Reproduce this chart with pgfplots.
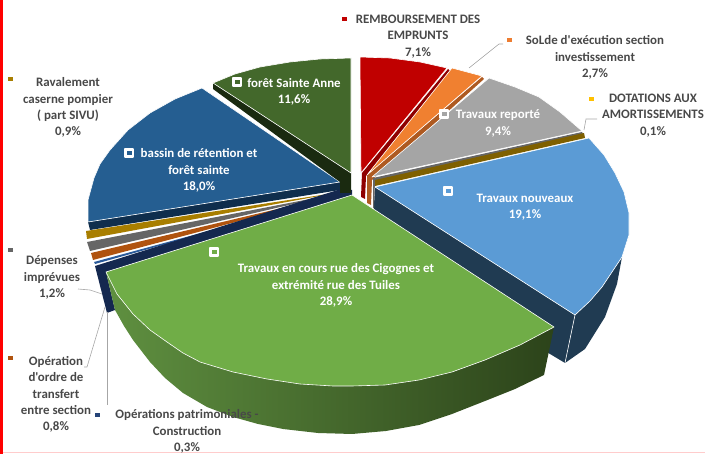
\documentclass[border=0pt]{standalone}
\usepackage{fontspec}
\newfontfamily\cb{Carlito}
\usepackage{pgfplots}
\pgfplotsset{compat=1.18}
\definecolor{tgrey}{HTML}{484848}
\definecolor{cNavyB}{HTML}{203B52}
\definecolor{cNavyC}{HTML}{0F2E4D}
\definecolor{cGold}{HTML}{A87E00}
\definecolor{cGrey}{HTML}{666666}
\definecolor{cRust}{HTML}{B0530F}
\definecolor{cThin}{HTML}{2A5A9A}
\definecolor{cBlue}{HTML}{255E91}
\definecolor{cNavy}{HTML}{14284F}
\definecolor{cDkSide}{HTML}{1A2A10}
\definecolor{cDk}{HTML}{43682B}
\definecolor{cRedS}{HTML}{8F0000}
\definecolor{cRed}{HTML}{C00000}
\definecolor{cOrS}{HTML}{AE5A21}
\definecolor{cOr}{HTML}{F08030}
\definecolor{cLG}{HTML}{A5A5A5}
\definecolor{cDot}{HTML}{7F6000}
\definecolor{cLB}{HTML}{5B9BD5}
\definecolor{cGa}{HTML}{5F9040}
\definecolor{cGb}{HTML}{36531F}
\definecolor{cGc}{HTML}{2C431A}
\definecolor{cG}{HTML}{70AD47}
\definecolor{cYel}{HTML}{FFC000}
\definecolor{cKeyO}{HTML}{ED7D31}
\definecolor{cKeyN}{HTML}{264478}
\tikzset{
  lab/.style={font=\cb\fontsize{12.9}{16.2}\selectfont\bfseries, text=tgrey, align=center, inner sep=0pt},
  wlab/.style={font=\cb\fontsize{12.9}{16.2}\selectfont\bfseries, text=white, align=center, inner sep=0pt},
}
\begin{document}
\begin{tikzpicture}
\begin{axis}[
  scale only axis, width=705pt, height=454pt,
  xmin=0, xmax=705, ymin=0, ymax=454, y dir=reverse,
  axis lines=none, clip=true,
  face/.style={draw=white, line width=0.6pt, line join=round, no marks},
  side/.style={draw=none, no marks},
  leader/.style={draw=gray!70, line width=0.6pt, no marks},
  key/.style={only marks, mark=square*, mark size=1.7pt, color=#1, mark options={draw=none, fill=#1}},
]
% frame marks
\addplot[draw=red, line width=3.6pt, no marks] coordinates {(1.6,0) (1.6,454)};
\addplot[draw=red!20, line width=1pt, no marks] coordinates {(3,453) (705,453)};

% light blue slice, sides
\addplot[side, fill=cNavyB] coordinates {(375,187) (575,315) (565,363) (550,354) (372,240)} --cycle;
\addplot[side, fill=cNavyB] coordinates {(575,315) (590,301) (602,287) (612,272) (622,257) (617,284) (605,317) (585,349) (565,363)} --cycle;
\addplot[draw=white, line width=0.6pt, no marks] coordinates {(575,315) (565,363)};

% thin slices
\addplot[side, fill=cNavyC] coordinates {(88,222) (340,182) (340,190) (90,230)} --cycle;
\addplot[side, fill=cGold] coordinates {(86,231) (87,239) (341,192)} --cycle;
\addplot[side, fill=cGrey] coordinates {(87,242) (90,251) (341,193)} --cycle;
\addplot[side, fill=cRust] coordinates {(91,253) (93,260) (341,194)} --cycle;
\addplot[side, fill=cThin] coordinates {(94,262) (95,264) (341,195)} --cycle;

% blue top
\addplot[face, fill=cBlue] coordinates {(340,182) (88,222) (88,200) (94,178) (100,164) (110,150) (128,130) (150,113) (175,99) (202,88)} --cycle;

% navy cut face
\addplot[side, fill=cNavy] coordinates {(95,266) (341,189) (352,190) (352,196) (106,272) (115,310) (107,313)} --cycle;

% dark green
\addplot[side, fill=cDkSide] coordinates {(213,83) (351,173) (351,193) (340,193) (340,182) (213,89)} --cycle;
\addplot[face, fill=cDk] coordinates {(351,173) (213,83) (235,74) (260,67) (290,62) (320,59) (351,58)} --cycle;

% red
\addplot[side, fill=cRedS] coordinates {(448,69) (362,173) (361,197) (365,199) (366,176) (450,71)} --cycle;
\addplot[face, fill=cRed] coordinates {(361,173) (360,57) (390,58) (420,62) (447,68)} --cycle;

% orange
\addplot[side, fill=cOrS] coordinates {(482,77) (367,175) (367,203) (371,205) (372,180) (484,79)} --cycle;
\addplot[face, fill=cOr] coordinates {(367,175) (452,68) (482,76)} --cycle;

% grey
\addplot[side, fill=cGrey] coordinates {(582,132) (373,178) (373,208) (374,208) (375,181) (583,134)} --cycle;
\addplot[face, fill=cLG] coordinates {(372,177) (489,78) (515,87) (539,97) (560,112) (582,131)} --cycle;

% dotations
\addplot[side, fill=cDot] coordinates {(584,133) (375,180) (375,186) (585,138)} --cycle;

% light blue top
\addplot[face, fill=cLB] coordinates {(375,187) (589,138) (604,155) (615,173) (624,192) (629,213) (629,235) (622,257) (612,272) (602,287) (590,301) (575,315)} --cycle;

% green side + top
\addplot[side, left color=cGa, middle color=cGb, right color=cGc] coordinates {(106,272) (115,310) (124,326) (133,340) (150,362) (165,378) (183,393) (207,407) (233,417) (258,424) (283,429) (318,433) (352,434) (386,431) (419,425) (452,414) (485,401) (515,389) (544,375) (554,327)} --cycle;
\addplot[face, fill=cG] coordinates {(352,195) (106,272) (117,294) (133,314) (150,330) (167,342) (183,353) (200,362) (233,372) (267,379) (300,384) (333,386) (352,386) (385,385) (419,380) (452,372) (485,360) (520,345) (554,327)} --cycle;

% leaders
\addplot[leader] coordinates {(469,68) (499,44) (503,44)};
\addplot[leader] coordinates {(584,130) (586,119) (597,119)};
\addplot[leader] coordinates {(78,289) (90,290) (102,294)};
\addplot[leader] coordinates {(84,367) (87,367) (105,307)};
\addplot[leader] coordinates {(107,405) (107,312)};

% legend keys
\addplot[key=cRed] coordinates {(344,19)};
\addplot[key=cKeyO] coordinates {(509,40)};
\addplot[key=cYel] coordinates {(591,99)};
\addplot[key=cGold] coordinates {(10,79)};
\addplot[key=cGrey] coordinates {(10,250)};
\addplot[key=cRust] coordinates {(10,358)};
\addplot[key=cKeyN] coordinates {(97,415)};

% in-slice keys
\addplot[only marks, mark=square*, mark size=4pt, color=white, mark options={draw=white, fill=white, line width=1.6pt, line join=round}] coordinates {(237,82) (129,153) (444,114) (448,191) (214,252)};
\addplot[key=cDk] coordinates {(237,82)};
\addplot[key=cBlue] coordinates {(129,153)};
\addplot[key=cLG] coordinates {(444,114)};
\addplot[key=cLB] coordinates {(448,191)};
\addplot[key=cG] coordinates {(214,252)};

% texts
\node[lab] at (axis cs:418,36.5) {REMBOURSEMENT DES\\EMPRUNTS\\7,1\%};
\node[lab] at (axis cs:595,57.5) {SoLde d'exécution section\\investissement\\2,7\%};
\node[lab] at (axis cs:653,115.5) {DOTATIONS AUX\\AMORTISSEMENTS\\0,1\%};
\node[lab] at (axis cs:68,107.5) {Ravalement\\caserne pompier\\( part SIVU)\\0,9\%};
\node[lab] at (axis cs:52,277.5) {Dépenses\\imprévues\\1,2\%};
\node[lab] at (axis cs:56,394.5) {Opération\\d'ordre de\\transfert\\entre section\\0,8\%};
\node[lab] at (axis cs:187,431.5) {Opérations patrimoniales -\\Construction\\0,3\%};
\node[wlab] at (axis cs:498,123.5) {Travaux reporté\\9,4\%};
\node[wlab] at (axis cs:525,207.5) {Travaux nouveaux\\19,1\%};
\node[wlab] at (axis cs:336,285.5) {Travaux en cours rue des Cigognes et\\extrémité rue des Tuiles\\28,9\%};
\node[wlab] at (axis cs:294,91.5) {forêt Sainte Anne\\11,6\%};
\node[wlab] at (axis cs:199,170.5) {bassin de rétention et\\forêt sainte\\18,0\%};
\end{axis}
\end{tikzpicture}
\end{document}
